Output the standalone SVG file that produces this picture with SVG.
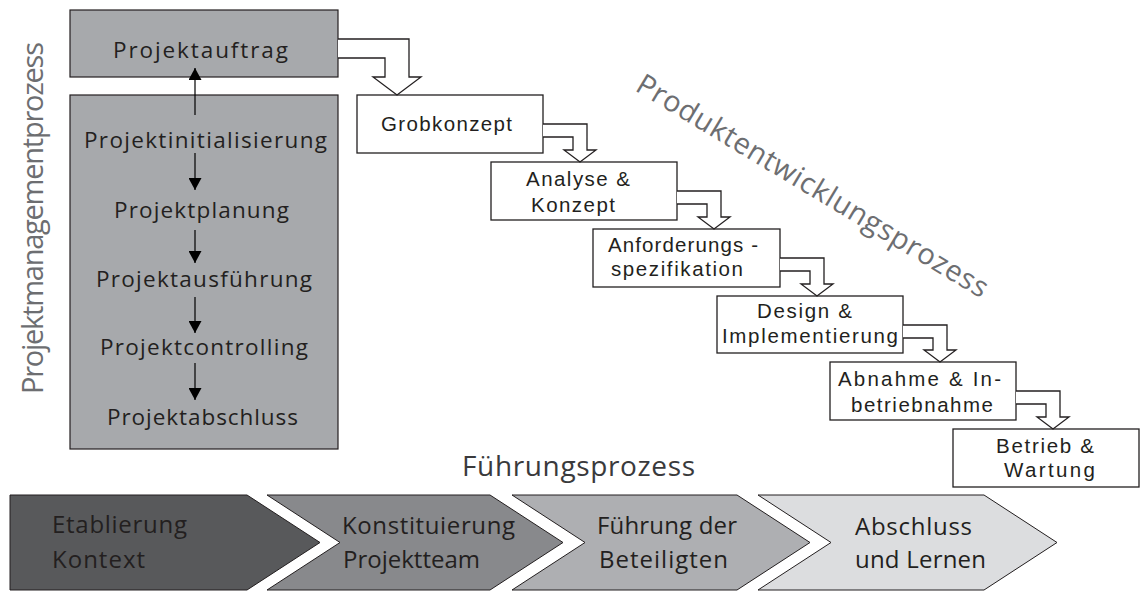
<svg xmlns="http://www.w3.org/2000/svg" width="1141" height="591" viewBox="0 0 1141 591">
<defs>
<marker id="ah" viewBox="0 0 12 13" refX="12" refY="6.5" markerWidth="12" markerHeight="13" markerUnits="userSpaceOnUse" orient="auto">
<path d="M0,0 L12,6.5 L0,13 Z" fill="#000"/>
</marker>
</defs>
<style>
text { font-family: "Open Sans", "Liberation Sans", sans-serif; fill: #231f20; }
.pm { font-size: 22.5px; }
.wf { font-family: "Liberation Sans", Arial, sans-serif; font-size: 20.5px; }
.ch { font-size: 24px; }
.rot { font-size: 29px; fill: #6d6e71; }
.fp { font-size: 28px; fill: #3a3a3c; }
.grey { fill: #a7a9ac; stroke: #231f20; stroke-width: 1.2; }
.box { fill: #ffffff; stroke: #231f20; stroke-width: 1.3; }
.barrow { fill: #ffffff; stroke: #231f20; stroke-width: 1.3; stroke-linejoin: miter; }
.sarrow { stroke: #000; stroke-width: 1.2; fill: none; marker-end: url(#ah); }
.chev { stroke: #231f20; stroke-width: 1; }
</style>

<text class="rot" transform="translate(43,394) rotate(-90)" textLength="352" lengthAdjust="spacing">Projektmanagementprozess</text>
<text class="rot" transform="translate(634,90) rotate(31)" textLength="405" lengthAdjust="spacing">Produktentwicklungsprozess</text>
<text class="fp" x="462" y="476" textLength="233" lengthAdjust="spacing">Führungsprozess</text>

<g id="projektauftrag">
<rect class="grey" x="70" y="10" width="268" height="67"/>
<text class="pm" x="113" y="58" textLength="175" lengthAdjust="spacing">Projektauftrag</text>
</g>
<g id="pm-phasen">
<rect class="grey" x="70" y="95" width="268" height="354"/>
<text class="pm" x="84" y="148" textLength="243" lengthAdjust="spacing">Projektinitialisierung</text>
<text class="pm" x="114" y="218" textLength="175" lengthAdjust="spacing">Projektplanung</text>
<text class="pm" x="96" y="287" textLength="216" lengthAdjust="spacing">Projektausführung</text>
<text class="pm" x="100" y="355" textLength="208" lengthAdjust="spacing">Projektcontrolling</text>
<text class="pm" x="107" y="425" textLength="191" lengthAdjust="spacing">Projektabschluss</text>
</g>

<g id="grobkonzept">
<rect class="box" x="357" y="95" width="186" height="58"/>
<text class="wf" x="381" y="131" textLength="131" lengthAdjust="spacing">Grobkonzept</text>
</g>
<g id="analyse">
<rect class="box" x="491" y="162" width="186" height="58"/>
<text class="wf" x="526" y="186" textLength="104" lengthAdjust="spacing">Analyse &amp;</text>
<text class="wf" x="531" y="212" textLength="84" lengthAdjust="spacing">Konzept</text>
</g>
<g id="anforderung">
<rect class="box" x="593" y="229" width="187" height="58"/>
<text class="wf" x="608" y="252" textLength="150" lengthAdjust="spacing">Anforderungs -</text>
<text class="wf" x="611" y="276" textLength="132" lengthAdjust="spacing">spezifikation</text>
</g>
<g id="design">
<rect class="box" x="717" y="296" width="186" height="57"/>
<text class="wf" x="757" y="318" textLength="95" lengthAdjust="spacing">Design &amp;</text>
<text class="wf" x="722" y="343" textLength="176" lengthAdjust="spacing">Implementierung</text>
</g>
<g id="abnahme">
<rect class="box" x="830" y="362" width="186" height="58"/>
<text class="wf" x="838" y="386" textLength="163" lengthAdjust="spacing">Abnahme &amp; In-</text>
<text class="wf" x="851" y="412" textLength="142" lengthAdjust="spacing">betriebnahme</text>
</g>
<g id="betrieb">
<rect class="box" x="953" y="429" width="186" height="58"/>
<text class="wf" x="996" y="453" textLength="98" lengthAdjust="spacing">Betrieb &amp;</text>
<text class="wf" x="1004" y="477" textLength="91" lengthAdjust="spacing">Wartung</text>
</g>

<g id="chevron-1">
<polygon class="chev" fill="#58595b" points="10,495 247,495 320,542.5 247,590 10,590"/>
<text class="ch" x="52" y="533" textLength="135" lengthAdjust="spacing">Etablierung</text>
<text class="ch" x="52" y="568" textLength="93" lengthAdjust="spacing">Kontext</text>
</g>
<g id="chevron-2">
<polygon class="chev" fill="#88898c" points="267,495 490,495 563,542.5 490,590 267,590 340,542.5"/>
<text class="ch" x="342" y="534" textLength="173" lengthAdjust="spacing">Konstituierung</text>
<text class="ch" x="343" y="568" textLength="137" lengthAdjust="spacing">Projektteam</text>
</g>
<g id="chevron-3">
<polygon class="chev" fill="#aeafb2" points="512,495 737,495 810,542.5 737,590 512,590 585,542.5"/>
<text class="ch" x="597" y="534" textLength="140" lengthAdjust="spacing">Führung der</text>
<text class="ch" x="599" y="568" textLength="129" lengthAdjust="spacing">Beteiligten</text>
</g>
<g id="chevron-4">
<polygon class="chev" fill="#dcdddf" points="758,495 984,495 1057,542.5 984,590 758,590 831,542.5"/>
<text class="ch" x="855" y="535" textLength="117" lengthAdjust="spacing">Abschluss</text>
<text class="ch" x="855" y="568" textLength="131" lengthAdjust="spacing">und Lernen</text>
</g>

<g id="connectors">
<line class="sarrow" x1="195" y1="115" x2="195" y2="68"/>
<line class="sarrow" x1="195" y1="153" x2="195" y2="190"/>
<line class="sarrow" x1="195" y1="230" x2="195" y2="263"/>
<line class="sarrow" x1="195" y1="297" x2="195" y2="333"/>
<line class="sarrow" x1="195" y1="363" x2="195" y2="400"/>
<path class="barrow" d="M338,39 H409 V77 H421 L397,95 L373,77 H385 V58 H338"/>
<path class="barrow" d="M543,124 H587 V150 H596 L580,162 L564,150 H573 V137 H543"/>
<path class="barrow" d="M677,191 H721 V217 H730 L714,229 L698,217 H707 V204 H677"/>
<path class="barrow" d="M780,258 H824 V284 H833 L817,296 L801,284 H810 V271 H780"/>
<path class="barrow" d="M903,325 H947 V350 H956 L940,362 L924,350 H933 V338 H903"/>
<path class="barrow" d="M1016,391 H1060 V417 H1069 L1053,429 L1037,417 H1046 V404 H1016"/>
</g>
</svg>
